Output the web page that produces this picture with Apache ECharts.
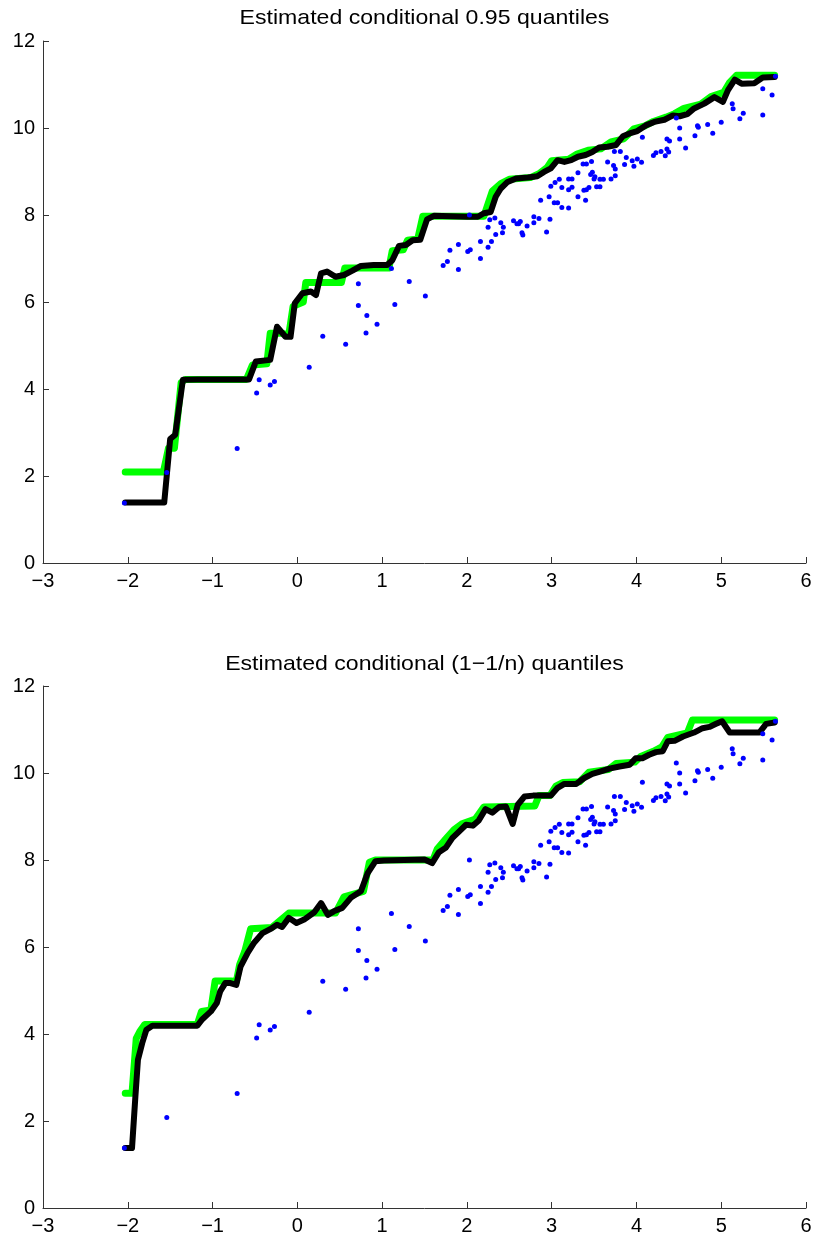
<!DOCTYPE html>
<html><head><meta charset="utf-8">
<script src="https://cdn.jsdelivr.net/npm/echarts@6/dist/echarts.min.js"></script>
<style>html,body{margin:0;padding:0;background:#fff}#c{width:816px;height:1239px}</style>
</head><body><div id="c"></div>
<script>
const titleTop = 'Estimated conditional 0.95 quantiles';
const titleBottom = 'Estimated conditional (1\u22121/n) quantiles';
const xTickValues = [-3,-2,-1,0,1,2,3,4,5,6];
const xTickLabels = ['\u22123','\u22122','\u22121','0','1','2','3','4','5','6'];
const yTickValues = [0,2,4,6,8,10,12];
const yTickLabels = ['0','2','4','6','8','10','12'];

const points = [[-2.04,1.38],[-1.54,2.08],[-0.71,2.63],[-0.48,3.91],[-0.45,4.21],[-0.32,4.09],[-0.27,4.17],[0.14,4.50],[0.30,5.21],[0.57,5.03],[0.72,5.92],[0.82,5.69],[0.81,5.29],[0.94,5.49],[1.15,5.94],[1.51,6.14],[0.72,6.42],[1.11,6.77],[1.32,6.47],[1.72,6.84],[1.77,6.93],[1.90,6.75],[1.80,7.19],[1.90,7.32],[2.01,7.16],[2.04,7.20],[2.03,8.00],[2.16,7.00],[2.16,7.39],[2.25,7.26],[2.25,7.72],[2.27,7.89],[2.33,7.93],[2.29,7.39],[2.34,7.55],[2.40,7.82],[2.43,7.72],[2.42,7.59],[2.55,7.87],[2.59,7.80],[2.61,7.80],[2.63,7.85],[2.65,7.59],[2.66,7.54],[2.71,7.75],[2.79,7.82],[2.79,7.96],[2.85,7.92],[2.94,7.61],[2.98,7.90],[2.87,8.34],[2.97,8.42],[2.99,8.66],[3.04,8.75],[3.09,8.82],[3.03,8.28],[3.07,8.28],[3.12,8.63],[3.12,8.17],[3.20,8.16],[3.20,8.58],[3.20,8.83],[3.24,8.83],[3.24,8.64],[3.31,8.97],[3.31,8.42],[3.37,9.17],[3.41,9.17],[3.47,9.23],[3.38,8.57],[3.40,8.34],[3.41,8.58],[3.44,8.63],[3.46,8.93],[3.48,8.98],[3.50,8.83],[3.51,8.88],[3.53,8.65],[3.57,8.65],[3.57,8.82],[3.61,8.82],[3.66,9.22],[3.70,8.83],[3.74,9.46],[3.81,9.46],[3.73,9.14],[3.75,9.06],[3.75,8.90],[3.88,9.32],[3.86,9.16],[3.95,9.25],[3.97,9.12],[4.01,9.29],[4.06,9.21],[4.07,9.79],[4.20,9.37],[4.23,9.43],[4.29,9.46],[4.34,9.36],[4.36,9.52],[4.38,9.45],[4.36,9.75],[4.39,9.70],[4.47,10.23],[4.51,10.00],[4.51,9.75],[4.58,9.54],[4.69,9.82],[4.72,10.05],[4.73,10.02],[4.84,10.08],[4.90,9.88],[5.00,10.13],[5.13,10.56],[5.14,10.44],[5.22,10.21],[5.26,10.34],[5.49,10.90],[5.49,10.30],[5.60,10.76],[5.64,11.19]];

const greenTop = [[-2.03,2.09],[-1.58,2.09],[-1.52,2.64],[-1.45,2.64],[-1.37,4.15],[-1.32,4.22],[-0.60,4.22],[-0.53,4.55],[-0.36,4.58],[-0.32,5.28],[-0.18,5.28],[-0.10,5.25],[-0.05,5.90],[0.07,6.00],[0.10,6.45],[0.52,6.45],[0.56,6.78],[1.08,6.78],[1.12,7.18],[1.25,7.20],[1.30,7.42],[1.42,7.45],[1.48,7.97],[2.20,7.97],[2.30,8.55],[2.40,8.72],[2.50,8.82],[2.75,8.86],[2.85,8.95],[2.95,9.10],[3.00,9.25],[3.20,9.28],[3.30,9.40],[3.43,9.49],[3.58,9.52],[3.70,9.68],[3.85,9.75],[3.97,9.98],[4.10,10.05],[4.20,10.15],[4.35,10.25],[4.45,10.33],[4.56,10.45],[4.76,10.55],[4.88,10.72],[5.03,10.82],[5.10,11.05],[5.18,11.21],[5.63,11.21]];
const blackTop = [[-2.03,1.39],[-1.57,1.39],[-1.50,2.85],[-1.44,2.95],[-1.35,4.21],[-1.18,4.22],[-0.57,4.22],[-0.49,4.63],[-0.32,4.67],[-0.24,5.43],[-0.14,5.20],[-0.08,5.20],[-0.03,5.97],[0.06,6.20],[0.16,6.24],[0.22,6.16],[0.28,6.66],[0.35,6.70],[0.45,6.58],[0.55,6.62],[0.65,6.72],[0.75,6.83],[0.90,6.85],[1.06,6.85],[1.12,6.96],[1.20,7.29],[1.28,7.31],[1.36,7.42],[1.45,7.43],[1.53,7.90],[1.61,7.98],[1.81,7.97],[2.01,7.96],[2.13,7.96],[2.20,8.04],[2.28,8.07],[2.34,8.42],[2.40,8.61],[2.48,8.76],[2.58,8.84],[2.72,8.86],[2.83,8.89],[2.91,8.99],[2.99,9.07],[3.07,9.26],[3.15,9.22],[3.23,9.26],[3.31,9.34],[3.40,9.38],[3.48,9.45],[3.56,9.55],[3.66,9.57],[3.76,9.61],[3.84,9.81],[3.94,9.89],[4.01,9.93],[4.11,10.06],[4.21,10.14],[4.33,10.19],[4.43,10.29],[4.51,10.27],[4.60,10.32],[4.68,10.45],[4.80,10.56],[4.92,10.71],[5.02,10.60],[5.08,10.87],[5.16,11.11],[5.24,11.02],[5.39,11.03],[5.49,11.16],[5.63,11.17]];

const greenBottom = [[-2.03,2.64],[-1.95,2.64],[-1.90,3.90],[-1.86,4.05],[-1.80,4.22],[-1.18,4.22],[-1.13,4.52],[-1.02,4.55],[-0.97,5.22],[-0.78,5.22],[-0.72,5.20],[-0.68,5.60],[-0.62,5.90],[-0.55,6.42],[-0.30,6.45],[-0.10,6.78],[0.45,6.78],[0.55,7.15],[0.78,7.28],[0.85,7.95],[0.92,8.00],[1.60,8.00],[1.65,8.25],[1.75,8.48],[1.85,8.70],[1.95,8.84],[2.10,8.94],[2.20,9.22],[2.80,9.24],[2.85,9.48],[2.98,9.48],[3.05,9.70],[3.13,9.78],[3.33,9.80],[3.44,10.02],[3.67,10.08],[3.76,10.22],[3.98,10.25],[4.05,10.38],[4.20,10.50],[4.30,10.60],[4.37,10.82],[4.60,10.92],[4.66,11.22],[5.63,11.22]];
const blackBottom = [[-2.03,1.38],[-1.95,1.38],[-1.91,2.57],[-1.88,3.41],[-1.83,3.79],[-1.78,4.10],[-1.71,4.19],[-1.18,4.19],[-1.12,4.34],[-1.02,4.52],[-0.95,4.71],[-0.91,4.98],[-0.85,5.17],[-0.79,5.17],[-0.72,5.13],[-0.67,5.55],[-0.59,5.85],[-0.51,6.10],[-0.41,6.32],[-0.32,6.41],[-0.24,6.51],[-0.18,6.46],[-0.10,6.67],[-0.01,6.55],[0.08,6.63],[0.20,6.80],[0.28,7.01],[0.36,6.74],[0.43,6.82],[0.53,6.90],[0.63,7.13],[0.75,7.28],[0.83,7.70],[0.92,7.97],[1.02,7.99],[1.50,8.01],[1.59,7.93],[1.67,8.18],[1.75,8.28],[1.83,8.51],[1.91,8.66],[1.99,8.81],[2.07,8.79],[2.14,8.91],[2.22,9.17],[2.30,9.09],[2.38,9.22],[2.46,9.23],[2.54,8.83],[2.60,9.27],[2.68,9.46],[2.78,9.48],[2.99,9.48],[3.07,9.66],[3.15,9.75],[3.29,9.75],[3.38,9.88],[3.48,9.98],[3.58,10.04],[3.68,10.10],[3.80,10.15],[3.92,10.19],[3.99,10.34],[4.07,10.34],[4.15,10.42],[4.23,10.48],[4.31,10.50],[4.37,10.73],[4.45,10.74],[4.55,10.84],[4.68,10.93],[4.78,11.03],[4.86,11.06],[4.94,11.13],[5.01,11.19],[5.10,10.93],[5.45,10.93],[5.53,11.13],[5.63,11.16]];

const FONT = '"Liberation Sans", Arial, Helvetica, sans-serif';
const chart = echarts.init(document.getElementById('c'), null, {renderer: 'canvas'});

function xAxis(gi) {
  return {
    type: 'value', gridIndex: gi, min: -3, max: 6, interval: 1,
    axisLine: {show: true, onZero: false, lineStyle: {color: '#333', width: 1}},
    axisTick: {show: true, inside: true, length: 6, lineStyle: {color: '#333'}},
    splitLine: {show: false},
    axisLabel: {
      color: '#000', fontSize: 20, fontFamily: FONT, margin: 8,
      formatter: v => { const i = xTickValues.indexOf(v); return i >= 0 ? xTickLabels[i] : ''; }
    }
  };
}
function yAxis(gi) {
  return {
    type: 'value', gridIndex: gi, min: 0, max: 12, interval: 2,
    axisLine: {show: true, onZero: false, lineStyle: {color: '#333', width: 1}},
    axisTick: {show: true, inside: true, length: 6, lineStyle: {color: '#333'}},
    splitLine: {show: false},
    axisLabel: {
      color: '#000', fontSize: 20, fontFamily: FONT, margin: 8,
      formatter: v => { const i = yTickValues.indexOf(v); return i >= 0 ? yTickLabels[i] : ''; }
    }
  };
}
function lineSeries(gi, data, color, width) {
  return {
    type: 'line', xAxisIndex: gi, yAxisIndex: gi, data: data,
    showSymbol: false, symbol: 'none', silent: true,
    lineStyle: {color: color, width: width, join: 'round', cap: 'round'}
  };
}
function scatterSeries(gi) {
  return {
    type: 'scatter', xAxisIndex: gi, yAxisIndex: gi, data: points,
    symbol: 'circle', symbolSize: 5, silent: true,
    itemStyle: {color: '#0000ff', opacity: 1}, z: 5
  };
}
function titleText(text, y) {
  return {
    type: 'text', x: 424.5, y: y, scaleX: 1.1, silent: true,
    style: {text: text, fill: '#000', font: '21px ' + FONT, textAlign: 'center', textVerticalAlign: 'middle'}
  };
}

chart.setOption({
  animation: false,
  backgroundColor: '#fff',
  graphic: [titleText(titleTop, 18.3), titleText(titleBottom, 664)],
  grid: [
    {left: 43, width: 763, top: 41, height: 522},
    {left: 43, width: 763, top: 686, height: 522}
  ],
  xAxis: [xAxis(0), xAxis(1)],
  yAxis: [yAxis(0), yAxis(1)],
  series: [
    lineSeries(0, greenTop, '#00ff00', 7),
    lineSeries(0, blackTop, '#000000', 6),
    scatterSeries(0),
    lineSeries(1, greenBottom, '#00ff00', 7),
    lineSeries(1, blackBottom, '#000000', 6),
    scatterSeries(1)
  ]
});
</script>
</body></html>
